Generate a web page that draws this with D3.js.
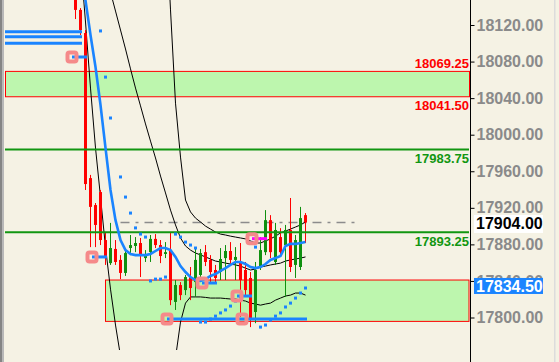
<!DOCTYPE html>
<html>
<head>
<meta charset="utf-8">
<script src="https://cdn.jsdelivr.net/npm/d3@7"></script>
<style>
  html, body { margin: 0; padding: 0; background: #f5f2e4; }
  svg { display: block; }
  text { font-family: "Liberation Sans", Arial, sans-serif; font-weight: bold; }
</style>
</head>
<body>
<div class="chart"></div>
<script>
// candles, one per bar, oldest first
const opens  = [18150.5, 18136.5, 18111.25, 17952.5, 17923, 17937.25, 17884.75, 17859.5, 17875, 17863, 17848.75, 17876, 17878.25, 17881.5, 17865, 17871.5, 17886, 17879.25, 17869.5, 17873.75, 17817, 17835.5, 17830, 17844.25, 17838.75, 17846.5, 17871.5, 17863, 17852, 17849.75, 17865, 17872.75, 17863, 17860.75, 17852, 17843.25, 17806, 17855.25, 17871.5, 17906.5, 17860.75, 17888, 17879.25, 17895.75, 17857.5, 17855.25, 17912];
const highs  = [18156, 18138.5, 18114.5, 17956, 17925.25, 17939.5, 17893.5, 17903.5, 17884.75, 17868.25, 17873.75, 17890.25, 17888, 17887, 17873.75, 17890.25, 17891.25, 17884.75, 17882.5, 17892.5, 17841, 17838.75, 17846.5, 17855.25, 17877, 17875, 17879.25, 17868.25, 17857.5, 17876, 17879.25, 17882.5, 17877, 17881.5, 17860.75, 17849.75, 17860.75, 17888, 17917.5, 17912, 17903.5, 17897.75, 17901.25, 17930.75, 17890.25, 17921, 17914.25];
const lows   = [18126.5, 18109, 17939.5, 17877, 17877, 17879.25, 17857.5, 17857.5, 17857.5, 17842, 17845.5, 17868.25, 17871.5, 17844.25, 17860.75, 17860.75, 17876, 17859.5, 17865, 17813.5, 17808.25, 17819, 17824.5, 17819, 17822.5, 17844.25, 17856.25, 17837.75, 17837.75, 17841, 17841, 17857.5, 17841, 17800.5, 17824.5, 17789.5, 17793.75, 17852, 17868.25, 17865, 17857.5, 17868.25, 17822.5, 17849.75, 17843.25, 17852, 17881.5];
const closes = [18136.5, 18114.5, 17946, 17921, 17901.25, 17884.75, 17865, 17876, 17860.75, 17848.75, 17870.5, 17879.25, 17881.5, 17868.25, 17868.25, 17886, 17879.25, 17867.25, 17871.5, 17819, 17835.5, 17824.5, 17844.25, 17832.25, 17863, 17870.5, 17860.75, 17849.75, 17843.25, 17864, 17872.75, 17863, 17866.25, 17841, 17830, 17799.5, 17852, 17873.75, 17906.5, 17871.5, 17895.75, 17871.5, 17895.75, 17855.25, 17884.75, 17908.75, 17904];

// moving average and bands
const maLine = [18224, 18186, 18147, 18109, 18074, 18032.5, 17985.5, 17939.5, 17906.5, 17884.75, 17873.75, 17869.5, 17868.25, 17868.25, 17868.25, 17869.5, 17872.75, 17876, 17876, 17873.75, 17866.25, 17856.25, 17849.75, 17844.25, 17841, 17840, 17842, 17845.5, 17847.5, 17851, 17854, 17857.5, 17860.75, 17860.75, 17858.5, 17855.25, 17854, 17855.25, 17858.5, 17863, 17865, 17867.25, 17878.25, 17880.5, 17880.5, 17881.5, 17882.5];
const bandLow = [18257, 18191, 18123.25, 18051, 17985.5, 17931.75, 17877, 17831, 17791.75, 17757.75, 17729.5, 17709.75, 17696.5, 17690, 17690, 17694.5, 17703, 17714, 17727.25, 17740.5, 17755.75, 17795, 17815.75, 17822.5, 17822.5, 17822.5, 17822, 17821.25, 17821.25, 17821.25, 17820.75, 17820.25, 17820.25, 17819, 17818, 17815.75, 17814.75, 17813.5, 17814.75, 17815.75, 17819, 17821.25, 17823.5, 17824.5, 17826.75, 17826.75, 17824.5];
const bandMid = [null, null, null, 18262.25, 18229.5, 18202, 18178, 18156, 18135.25, 18114.5, 18093.75, 18072, 18051, 18031.5, 18011.75, 17993, 17974.5, 17954.75, 17936.25, 17917.5, 17901.25, 17887, 17878.25, 17873.75, 17870.5, 17868.5, 17866.25, 17864, 17861.75, 17860.75, 17859.5, 17858.5, 17857.5, 17856.25, 17854, 17852, 17853, 17855.25, 17856.25, 17857.5, 17858.5, 17859.5, 17861.75, 17863, 17864, 17865, 17866.25];
const bandHigh = [null, null, null, null, null, null, null, null, null, null, null, null, null, null, null, null, null, null, 18245.75, 18136.5, 18034.5, 17975.5, 17928.5, 17915.5, 17908.75, 17904.5, 17900, 17896.75, 17893.5, 17891.25, 17890.25, 17889, 17888, 17887, 17886, 17883.75, 17881.5, 17881.5, 17883.75, 17886, 17889, 17892.5, 17894.5, 17896.75, 17899, 17901.25, 17904.5];

// stop-and-reverse dots
const sarDots = [null, null, null, null, null, 18113.5, 18063, 18018.25, null, 17953.75, 17931.75, 17914.25, 17898, 17891.25, 17888, 17840, 17842, 17842, 17844.25, null, 17891.25, 17888, 17882.5, 17879.25, 17876, 17795, 17795, 17798.25, 17801.5, 17805, 17808.25, 17812.5, 17818, 17822.5, null, 17881.5, 17877, 17789.5, 17791.75, 17797.25, 17801.5, 17805, 17811.5, 17815.75, 17821.25, 17826.75, 17832.25];

// signal markers and the levels they start
const markBars   = [-1, 3, 18, 25, 32, 33, 35];
const markPrices = [18085, 17866.25, 17798.25, 17837.75, 17823.5, 17798.25, 17886.25];
const segStart   = [-1, 3, 18, 25, 32];
const segEnd     = [2, 6, 46, 28, 35];
const segPrices  = [18085, 17866.25, 17798.25, 17837.75, 17823.5];
const pinkSeg    = [35, 38, 17886.25];
const topLevels  = [18112.75, 18107.25, 18100];
const topLevelEnd = 1;

// zones and lines
const zoneHigh = [18069.25, 18041.50];
const zoneLow  = [17841, 17795.75];
const zoneLowStart = 6;
const greenLevels = [17983.75, 17893.25];
const lastPrice = 17904;
const lastSpan = [9, 56];
const markPrice = 17834.5;

const yTicks = [18120, 18080, 18040, 18000, 17960, 17920, 17880, 17840, 17800];

(function() {
  'use strict';

  let width = 559, height = 362,
      plotLeft = 5, plotRight = 469, plotBottom = 350,
      fmt = d3.format('.2f'),
      red = '#ff0000', green = '#0f900f', blue = '#1a84ff',

      svg = d3.select('.chart')
        .append('svg')
        .attr('width', width)
        .attr('height', height),

      x = d3.scaleLinear().domain([0, 46]).range([75.5, 305.5]),
      y = d3.scaleLinear().domain([17800, 18120]).range([317.5, 25]),

      lineOf = (values) => d3.line()
        .defined(d => d != null)
        .x((d, i) => x(i))
        .y(d => y(d))(values);

  // borders
  svg.append('rect').attr('x', 0).attr('y', 0).attr('width', 2).attr('height', height).attr('fill', '#858585');
  svg.append('rect').attr('x', 2).attr('y', 0).attr('width', 2).attr('height', height).attr('fill', '#b8b8b8');
  svg.append('rect').attr('x', 554).attr('y', 0).attr('width', 1.5).attr('height', height).attr('fill', '#dcdcdc');

  svg.append('clipPath').attr('id', 'plot')
    .append('rect')
    .attr('x', plotLeft).attr('y', 0)
    .attr('width', plotRight - plotLeft + 1).attr('height', plotBottom);

  let g = svg.append('g').attr('clip-path', 'url(#plot)');

  // zones
  g.append('rect')
    .attr('x', plotLeft + 0.5).attr('y', y(zoneHigh[0]))
    .attr('width', plotRight - plotLeft).attr('height', y(zoneHigh[1]) - y(zoneHigh[0]))
    .attr('fill', '#bdf6ae').attr('stroke', red).attr('stroke-width', 1);

  g.append('rect')
    .attr('x', x(zoneLowStart)).attr('y', y(zoneLow[0]))
    .attr('width', plotRight - x(zoneLowStart)).attr('height', y(zoneLow[1]) - y(zoneLow[0]))
    .attr('fill', '#bdf6ae').attr('stroke', red).attr('stroke-width', 1);

  // last price dashed line
  g.append('line')
    .attr('x1', x(lastSpan[0])).attr('x2', x(lastSpan[1]))
    .attr('y1', y(lastPrice)).attr('y2', y(lastPrice))
    .attr('stroke', '#8c8c8c').attr('stroke-width', 1.5)
    .attr('stroke-dasharray', '9,6,3,6');

  // bands
  [bandLow, bandMid, bandHigh].forEach(b => {
    g.append('path')
      .attr('d', lineOf(b))
      .attr('fill', 'none')
      .attr('stroke', '#000')
      .attr('stroke-width', 1);
  });

  // candles
  let bars = d3.range(opens.length);
  g.selectAll('line.wick')
    .data(bars)
    .enter()
    .append('line')
      .attr('class', 'wick')
      .attr('x1', i => x(i)).attr('x2', i => x(i))
      .attr('y1', i => y(highs[i])).attr('y2', i => y(lows[i]))
      .attr('stroke', i => closes[i] >= opens[i] ? green : red)
      .attr('stroke-width', 1);

  g.selectAll('rect.body')
    .data(bars)
    .enter()
    .append('rect')
      .attr('class', 'body')
      .attr('x', i => x(i) - 1.5)
      .attr('width', 3)
      .attr('y', i => y(Math.max(opens[i], closes[i])))
      .attr('height', i => Math.max(1, Math.abs(y(opens[i]) - y(closes[i]))))
      .attr('fill', i => closes[i] >= opens[i] ? green : red);

  // green levels
  g.selectAll('line.level')
    .data(greenLevels)
    .enter()
    .append('line')
      .attr('class', 'level')
      .attr('x1', plotLeft).attr('x2', plotRight)
      .attr('y1', d => y(d)).attr('y2', d => y(d))
      .attr('stroke', '#119611').attr('stroke-width', 2);

  // moving average
  g.append('path')
    .attr('d', lineOf(maLine))
    .attr('fill', 'none')
    .attr('stroke', blue)
    .attr('stroke-width', 2.6);

  // sar dots
  g.selectAll('rect.sar')
    .data(sarDots.map((v, i) => [i, v]).filter(d => d[1] != null))
    .enter()
    .append('rect')
      .attr('class', 'sar')
      .attr('x', d => x(d[0]) - 1.5).attr('y', d => y(d[1]) - 1.5)
      .attr('width', 3).attr('height', 3)
      .attr('fill', blue);

  // blue levels
  g.selectAll('line.top')
    .data(topLevels)
    .enter()
    .append('line')
      .attr('class', 'top')
      .attr('x1', plotLeft).attr('x2', x(topLevelEnd) + 1.5)
      .attr('y1', d => y(d)).attr('y2', d => y(d))
      .attr('stroke', blue).attr('stroke-width', 3);

  g.selectAll('line.seg')
    .data(segPrices)
    .enter()
    .append('line')
      .attr('class', 'seg')
      .attr('x1', (d, i) => x(segStart[i]) + 1.5).attr('x2', (d, i) => x(segEnd[i]) + 1.5)
      .attr('y1', d => y(d)).attr('y2', d => y(d))
      .attr('stroke', blue).attr('stroke-width', 3);

  g.append('line')
    .attr('x1', x(pinkSeg[0]) + 1.5).attr('x2', x(pinkSeg[1]) + 1.5)
    .attr('y1', y(pinkSeg[2])).attr('y2', y(pinkSeg[2]))
    .attr('stroke', '#ff00ff').attr('stroke-width', 3);

  // markers
  g.selectAll('rect.mark')
    .data(markBars)
    .enter()
    .append('rect')
      .attr('class', 'mark')
      .attr('x', (d, i) => x(d) + 1.5 - 4.5)
      .attr('y', (d, i) => y(markPrices[i]) - 4.5)
      .attr('width', 9).attr('height', 9)
      .attr('rx', 2)
      .attr('fill', 'none')
      .attr('stroke', '#f58a8a')
      .attr('stroke-width', 4);

  // level labels
  let labels = [
    { v: zoneHigh[0], c: red, dy: -3 },
    { v: zoneHigh[1], c: red, dy: 13 },
    { v: greenLevels[0], c: '#119611', dy: 13.5 },
    { v: greenLevels[1], c: '#119611', dy: 13.5 }
  ];
  svg.selectAll('text.lvl')
    .data(labels)
    .enter()
    .append('text')
      .attr('class', 'lvl')
      .attr('x', plotRight)
      .attr('y', d => y(d.v) + d.dy)
      .attr('text-anchor', 'end')
      .attr('font-size', 13)
      .attr('fill', d => d.c)
      .text(d => fmt(d.v));

  // price axis
  svg.append('line')
    .attr('x1', 470.5).attr('x2', 470.5)
    .attr('y1', 0).attr('y2', height)
    .attr('stroke', '#000').attr('stroke-width', 1);

  let axis = svg.append('g')
    .attr('transform', 'translate(470.5,0)')
    .call(d3.axisRight(y).tickValues(yTicks).tickSize(4).tickPadding(2).tickFormat(fmt));
  axis.select('.domain').remove();
  axis.selectAll('.tick line').attr('stroke', '#000');
  axis.selectAll('.tick text')
    .attr('fill', '#8a8a8a')
    .attr('font-size', 16)
    .attr('font-family', '"Liberation Sans", Arial, sans-serif')
    .attr('font-weight', 'bold');

  // price tags
  svg.append('rect')
    .attr('x', 474).attr('y', y(lastPrice) - 7.5)
    .attr('width', 69).attr('height', 18)
    .attr('fill', '#fff');
  svg.append('text')
    .attr('x', 476).attr('y', y(lastPrice) + 7)
    .attr('font-size', 16).attr('fill', '#000')
    .text(fmt(lastPrice));

  svg.append('rect')
    .attr('x', 474).attr('y', y(markPrice) - 8)
    .attr('width', 69).attr('height', 16)
    .attr('fill', blue);
  svg.append('text')
    .attr('x', 476).attr('y', y(markPrice) + 6)
    .attr('font-size', 16).attr('fill', '#fff')
    .text(fmt(markPrice));

})();
</script>
</body>
</html>
